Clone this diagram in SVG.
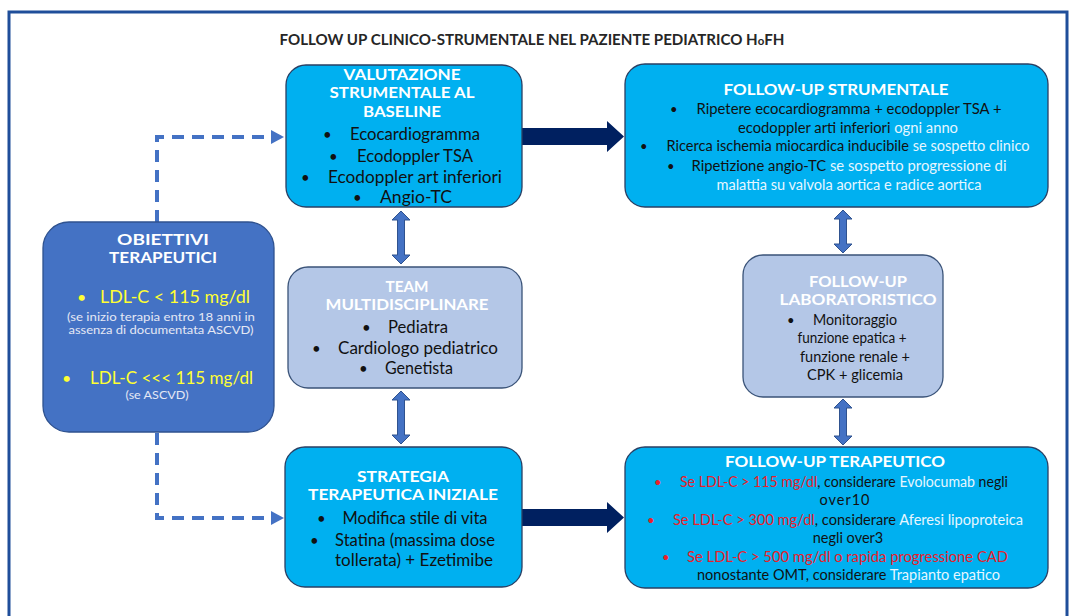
<svg xmlns="http://www.w3.org/2000/svg" width="1076" height="616" viewBox="0 0 1076 616">
<style>
text{font-family:Lato,"Open Sans","Liberation Sans",sans-serif;}
.t{font-weight:bold;fill:#ffffff;font-size:15px;text-anchor:middle;}
.b{fill:#111111;font-size:16.5px;text-anchor:middle;}
.s{fill:#111111;font-size:14.5px;text-anchor:middle;}
.bl{fill:#111111;font-size:15px;}
.bs{fill:#111111;font-size:13px;}
.lt{fill:#e6f6ff;}
.rd{fill:#e8202a;}
.cyan{fill:#00b0f0;stroke:#2a3f63;stroke-width:1.3;}
.pale{fill:#b4c7e7;stroke:#3a5378;stroke-width:1.3;}
.blue{fill:#4472c4;stroke:#2f528f;stroke-width:1.3;}
.dbl{fill:#4472c4;stroke:#2f528f;stroke-width:1;}
.thick{fill:#002060;}
.dash{fill:none;stroke:#4472c4;stroke-width:4;stroke-dasharray:12 8;}
</style>
<rect x="0" y="0" width="1076" height="616" fill="#ffffff"/>
<rect x="9" y="12" width="1058" height="620" fill="none" stroke="#1f4e9a" stroke-width="3"/>
<text x="532" y="45" font-size="14.5" font-weight="bold" fill="#262626" text-anchor="middle" textLength="505" lengthAdjust="spacingAndGlyphs">FOLLOW UP CLINICO-STRUMENTALE NEL PAZIENTE PEDIATRICO H<tspan font-size="11">o</tspan>FH</text>

<g id="connectors">
<path class="dash" d="M157,222 L157,137 L272,137"/>
<path d="M271,130 L284,137 L271,144 Z" fill="#4472c4"/>
<path class="dash" d="M157,433 L157,518 L272,518"/>
<path d="M271,511 L284,518 L271,525 Z" fill="#4472c4"/>
<path class="thick" d="M522,128 L607,128 L607,121 L624,136.5 L607,152 L607,145 L522,145 Z"/>
<path class="thick" d="M522,509 L607,509 L607,502 L624,517.5 L607,533 L607,526 L522,526 Z"/>
<path class="dbl" d="M401,211 L410,220 L404.5,220 L404.5,255 L410,255 L401,264 L392,255 L397.5,255 L397.5,220 L392,220 Z"/>
<path class="dbl" d="M401,391 L410,400 L404.5,400 L404.5,435 L410,435 L401,444 L392,435 L397.5,435 L397.5,400 L392,400 Z"/>
<path class="dbl" d="M843,210 L852,219 L846.5,219 L846.5,244 L852,244 L843,253 L834,244 L839.5,244 L839.5,219 L834,219 Z"/>
<path class="dbl" d="M843,399 L852,408 L846.5,408 L846.5,436 L852,436 L843,445 L834,436 L839.5,436 L839.5,408 L834,408 Z"/>
</g>

<g id="valutazione">
<rect class="cyan" x="286" y="65" width="236" height="142" rx="20"/>
<text class="t" x="402" y="80" textLength="117" lengthAdjust="spacingAndGlyphs">VALUTAZIONE</text>
<text class="t" x="402" y="98" textLength="145" lengthAdjust="spacingAndGlyphs">STRUMENTALE AL</text>
<text class="t" x="402" y="117" textLength="78" lengthAdjust="spacingAndGlyphs">BASELINE</text>
<text class="bl" x="323" y="140">•</text><text class="b" x="415" y="140" textLength="130" lengthAdjust="spacingAndGlyphs">Ecocardiogramma</text>
<text class="bl" x="329" y="162">•</text><text class="b" x="415" y="162" textLength="116" lengthAdjust="spacingAndGlyphs">Ecodoppler TSA</text>
<text class="bl" x="301" y="183">•</text><text class="b" x="415" y="183" textLength="174" lengthAdjust="spacingAndGlyphs">Ecodoppler art inferiori</text>
<text class="bl" x="353" y="203">•</text><text class="b" x="416" y="203" textLength="72" lengthAdjust="spacingAndGlyphs">Angio-TC</text>
</g>

<g id="followup-strumentale">
<rect class="cyan" x="625" y="64" width="423" height="143" rx="20"/>
<text class="t" x="836" y="95" textLength="225" lengthAdjust="spacingAndGlyphs">FOLLOW-UP STRUMENTALE</text>
<text class="bs" x="670" y="114">•</text><text class="s" x="849" y="114" textLength="305" lengthAdjust="spacingAndGlyphs">Ripetere ecocardiogramma + ecodoppler TSA +</text>
<text class="s" x="848" y="133" textLength="220" lengthAdjust="spacingAndGlyphs">ecodoppler arti inferiori <tspan class="lt">ogni anno</tspan></text>
<text class="bs" x="640" y="151">•</text><text class="s" x="848" y="151" textLength="363" lengthAdjust="spacingAndGlyphs">Ricerca ischemia miocardica inducibile <tspan class="lt">se sospetto clinico</tspan></text>
<text class="bs" x="667" y="171">•</text><text class="s" x="849" y="171" textLength="315" lengthAdjust="spacingAndGlyphs">Ripetizione angio-TC <tspan class="lt">se sospetto progressione di</tspan></text>
<text class="s lt" x="849" y="190" textLength="265" lengthAdjust="spacingAndGlyphs">malattia su valvola aortica e radice aortica</text>
</g>

<g id="obiettivi">
<rect class="blue" x="43" y="222" width="231" height="210" rx="26"/>
<text class="t" x="163" y="245" textLength="92" lengthAdjust="spacingAndGlyphs">OBIETTIVI</text>
<text class="t" x="163" y="263" textLength="108" lengthAdjust="spacingAndGlyphs">TERAPEUTICI</text>
<text x="77" y="303" font-size="16" fill="#ffff33">•</text>
<text x="175" y="303" font-size="17" fill="#ffff33" text-anchor="middle" textLength="150" lengthAdjust="spacingAndGlyphs">LDL-C &lt; 115 mg/dl</text>
<text x="161" y="321" font-size="11" fill="#e4e8f4" text-anchor="middle" textLength="188" lengthAdjust="spacingAndGlyphs">(se inizio terapia entro 18 anni in</text>
<text x="161" y="334" font-size="11" fill="#e4e8f4" text-anchor="middle" textLength="185" lengthAdjust="spacingAndGlyphs">assenza di documentata ASCVD)</text>
<text x="62" y="384" font-size="16" fill="#ffff33">•</text>
<text x="171.5" y="384" font-size="17" fill="#ffff33" text-anchor="middle" textLength="163" lengthAdjust="spacingAndGlyphs">LDL-C &lt;&lt;&lt; 115 mg/dl</text>
<text x="157" y="399" font-size="11" fill="#e4e8f4" text-anchor="middle" textLength="63" lengthAdjust="spacingAndGlyphs">(se ASCVD)</text>
</g>

<g id="team">
<rect class="pale" x="288" y="267" width="234" height="121" rx="20"/>
<text class="t" x="407" y="292" textLength="43" lengthAdjust="spacingAndGlyphs">TEAM</text>
<text class="t" x="407" y="310" textLength="163" lengthAdjust="spacingAndGlyphs">MULTIDISCIPLINARE</text>
<text class="bl" x="362" y="333">•</text><text class="b" x="418" y="333" textLength="60" lengthAdjust="spacingAndGlyphs">Pediatra</text>
<text class="bl" x="312" y="354">•</text><text class="b" x="418" y="354" textLength="160" lengthAdjust="spacingAndGlyphs">Cardiologo pediatrico</text>
<text class="bl" x="359" y="374">•</text><text class="b" x="419" y="374" textLength="68" lengthAdjust="spacingAndGlyphs">Genetista</text>
</g>

<g id="followup-laboratoristico">
<rect class="pale" x="743" y="255" width="200" height="142" rx="20"/>
<text class="t" x="858" y="287" textLength="98" lengthAdjust="spacingAndGlyphs">FOLLOW-UP</text>
<text class="t" x="858" y="305" textLength="157" lengthAdjust="spacingAndGlyphs">LABORATORISTICO</text>
<text class="bs" x="787" y="325">•</text><text class="s" x="855" y="325" textLength="84" lengthAdjust="spacingAndGlyphs">Monitoraggio</text>
<text class="s" x="852" y="343" textLength="109" lengthAdjust="spacingAndGlyphs">funzione epatica +</text>
<text class="s" x="855" y="362" textLength="110" lengthAdjust="spacingAndGlyphs">funzione renale +</text>
<text class="s" x="855" y="380" textLength="96" lengthAdjust="spacingAndGlyphs">CPK + glicemia</text>
</g>

<g id="strategia">
<rect class="cyan" x="285" y="447" width="237" height="140" rx="20"/>
<text class="t" x="403" y="482" textLength="92" lengthAdjust="spacingAndGlyphs">STRATEGIA</text>
<text class="t" x="403" y="500" textLength="190" lengthAdjust="spacingAndGlyphs">TERAPEUTICA INIZIALE</text>
<text class="bl" x="317" y="524">•</text><text class="b" x="415" y="524" textLength="145" lengthAdjust="spacingAndGlyphs">Modifica stile di vita</text>
<text class="bl" x="310" y="546">•</text><text class="b" x="415" y="546" textLength="160" lengthAdjust="spacingAndGlyphs">Statina (massima dose</text>
<text class="b" x="414" y="566" textLength="158" lengthAdjust="spacingAndGlyphs">tollerata) + Ezetimibe</text>
</g>

<g id="followup-terapeutico">
<rect class="cyan" x="625" y="447" width="423" height="141" rx="20"/>
<text class="t" x="835" y="467" textLength="220" lengthAdjust="spacingAndGlyphs">FOLLOW-UP TERAPEUTICO</text>
<text class="bs rd" x="654" y="487">•</text><text class="s" x="844" y="487" textLength="328" lengthAdjust="spacingAndGlyphs"><tspan class="rd">Se LDL-C &gt; 115 mg/dl</tspan>, considerare <tspan class="lt">Evolocumab</tspan> negli</text>
<text class="s" x="844.5" y="505" textLength="50" lengthAdjust="spacing">over10</text>
<text class="bs rd" x="647" y="525">•</text><text class="s" x="848" y="525" textLength="350" lengthAdjust="spacingAndGlyphs"><tspan class="rd">Se LDL-C &gt; 300 mg/dl</tspan>, considerare <tspan class="lt">Aferesi lipoproteica</tspan></text>
<text class="s" x="848" y="543">negli over3</text>
<text class="bs rd" x="662" y="562">•</text><text class="s rd" x="847.5" y="562" textLength="321" lengthAdjust="spacingAndGlyphs">Se LDL-C &gt; 500 mg/dl o rapida progressione CAD</text>
<text class="s" x="848.5" y="580" textLength="303" lengthAdjust="spacingAndGlyphs">nonostante OMT, considerare <tspan class="lt">Trapianto epatico</tspan></text>
</g>
</svg>
